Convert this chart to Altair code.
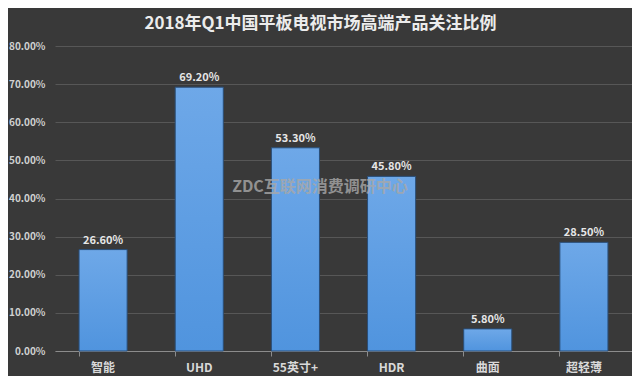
import altair as alt
import pandas as pd

categories = ["智能", "UHD", "55英寸+", "HDR", "曲面", "超轻薄"]
values = [0.266, 0.692, 0.533, 0.458, 0.058, 0.285]
labels = ["26.60%", "69.20%", "53.30%", "45.80%", "5.80%", "28.50%"]
y_ticks = [0.0, 0.1, 0.2, 0.3, 0.4, 0.5, 0.6, 0.7, 0.8]
title_text = "2018年Q1中国平板电视市场高端产品关注比例"
watermark_text = "ZDC互联网消费调研中心"

df = pd.DataFrame({"cat": categories, "val": values, "label": labels})
FONT = "Noto Sans CJK SC"

x_axis = alt.Axis(labelAngle=0, labelFont=FONT, labelFontSize=12,
                  labelFontWeight="bold", labelColor="#d9d9d9",
                  labelPadding=6, domainColor="#8c8c8c",
                  tickColor="#8c8c8c", tickSize=5, bandPosition=0,
                  grid=False)
x_scale = alt.Scale(paddingInner=0.5, paddingOuter=0.25)
y_axis = alt.Axis(format=".2%", values=y_ticks, labelOverlap=False,
                  labelFont=FONT, labelFontSize=10,
                  labelFontWeight="bold", labelColor="#d0d0d0",
                  labelPadding=10, domain=False, ticks=False,
                  gridColor="#575757", gridWidth=1)
y_scale = alt.Scale(domain=[0, 0.8], nice=False)

base = alt.Chart(df)

bars = base.mark_bar(
    stroke="#2a4e78", strokeWidth=1,
    color=alt.Gradient(gradient="linear",
                       stops=[alt.GradientStop(color="#6ea8e8", offset=0),
                              alt.GradientStop(color="#5094de", offset=1)],
                       x1=0, x2=0, y1=0, y2=1)
).encode(
    x=alt.X("cat:N", sort=categories, title=None, scale=x_scale, axis=x_axis),
    y=alt.Y("val:Q", title=None, scale=y_scale, axis=y_axis),
)

text = base.mark_text(dy=-9, font=FONT, fontSize=11, fontWeight="bold",
                      color="#e6e6e6").encode(
    x=alt.X("cat:N", sort=categories, title=None, scale=x_scale, axis=x_axis),
    y=alt.Y("val:Q", title=None, scale=y_scale, axis=y_axis),
    text="label:N")

wm = alt.Chart(pd.DataFrame({"t": [watermark_text], "val": [0.43]})).mark_text(
    font=FONT, fontSize=16, fontWeight="bold", color="#a8a8a8", opacity=0.8,
    align="center").encode(
    x=alt.value(265),
    y=alt.Y("val:Q", title=None, scale=y_scale, axis=y_axis),
    text="t:N")

chart = alt.layer(bars, text, wm).properties(
    width=577, height=305,
    padding={"left": 47, "top": 38, "right": 0, "bottom": 25},
    autosize=alt.AutoSizeParams(type="none"),
    background="#393939",
    title=alt.TitleParams(title_text, font=FONT, fontSize=17, fontWeight="bold",
                          color="#ececec", anchor="middle", offset=8, dx=-23),
).configure_view(stroke=None)

chart.save("out.html", embed_options={"renderer": "svg", "actions": False})
